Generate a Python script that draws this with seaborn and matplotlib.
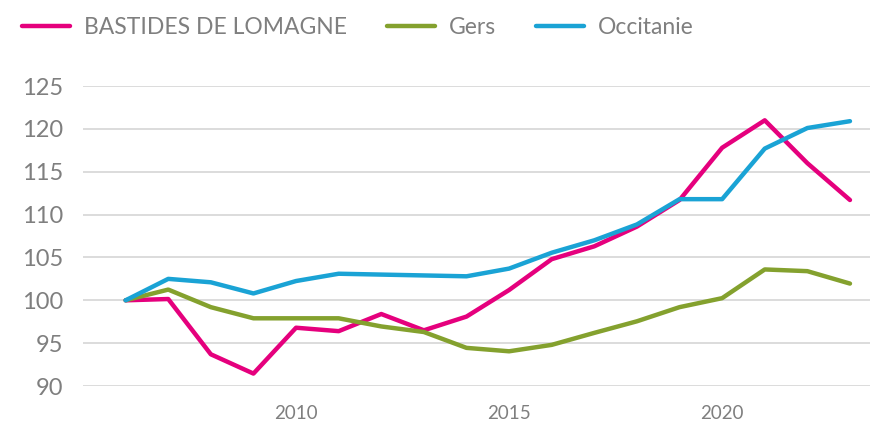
import matplotlib
matplotlib.use("Agg")
import matplotlib.pyplot as plt
import numpy as np
import pandas as pd
import seaborn as sns

years = list(range(2006, 2024))
bastides = [100.0, 100.15, 93.7, 91.45, 96.8, 96.4, 98.4, 96.5, 98.1,
            101.2, 104.8, 106.3, 108.6, 111.7, 117.8, 121.0, 116.0, 111.7]
gers = [100.0, 101.25, 99.2, 97.9, 97.9, 97.9, 96.95, 96.3, 94.45,
        94.05, 94.8, 96.2, 97.55, 99.2, 100.25, 103.6, 103.4, 101.95]
occitanie = [100.0, 102.5, 102.1, 100.8, 102.25, 103.1, 103.0, 102.9, 102.8,
             103.7, 105.55, 107.0, 108.85, 111.8, 111.8, 117.7, 120.1, 120.9]

series_names = ["BASTIDES DE LOMAGNE", "Gers", "Occitanie"]
colors = ["#E5007D", "#84A12E", "#1AA3D5"]
y_ticks = [90, 95, 100, 105, 110, 115, 120, 125]
x_ticks = [2010, 2015, 2020]

df = pd.DataFrame({
    "annee": years * 3,
    "indice": bastides + gers + occitanie,
    "territoire": np.repeat(series_names, len(years)),
})

sns.set_theme(style="white")
plt.rcParams["font.family"] = ["Lato", "DejaVu Sans"]
grey = "#7F7F7F"

fig = plt.figure(figsize=(8.72, 4.24), dpi=100)
ax = fig.add_axes([0.0952, 0.0896, 0.9025, 0.7075])

sns.lineplot(data=df, x="annee", y="indice", hue="territoire",
             hue_order=series_names, palette=colors, linewidth=3.2,
             ax=ax, legend=False, clip_on=False)

ax.set_xlim(2005.0, 2023.47)
ax.set_ylim(90, 125)
ax.set_yticks(y_ticks)
ax.set_xticks(x_ticks)
ax.grid(axis="y", color="#D9D9D9", linewidth=1.3)
ax.set_axisbelow(True)
for s in ax.spines.values():
    s.set_visible(False)
ax.tick_params(axis="y", labelsize=17, colors=grey, pad=14, length=0)
ax.tick_params(axis="x", labelsize=13.5, colors=grey, pad=14, length=0)
ax.set_xlabel("")
ax.set_ylabel("")

handles = [plt.Line2D([], [], color=c, linewidth=3.2) for c in colors]
leg = fig.legend(handles, series_names, loc="upper left",
                 bbox_to_anchor=(0.002, 1.008), ncol=3, frameon=False,
                 fontsize=16.5, handlelength=2.1, handletextpad=0.6,
                 columnspacing=1.73)
for t in leg.get_texts():
    t.set_color(grey)

fig.savefig("out.png", dpi=100)
